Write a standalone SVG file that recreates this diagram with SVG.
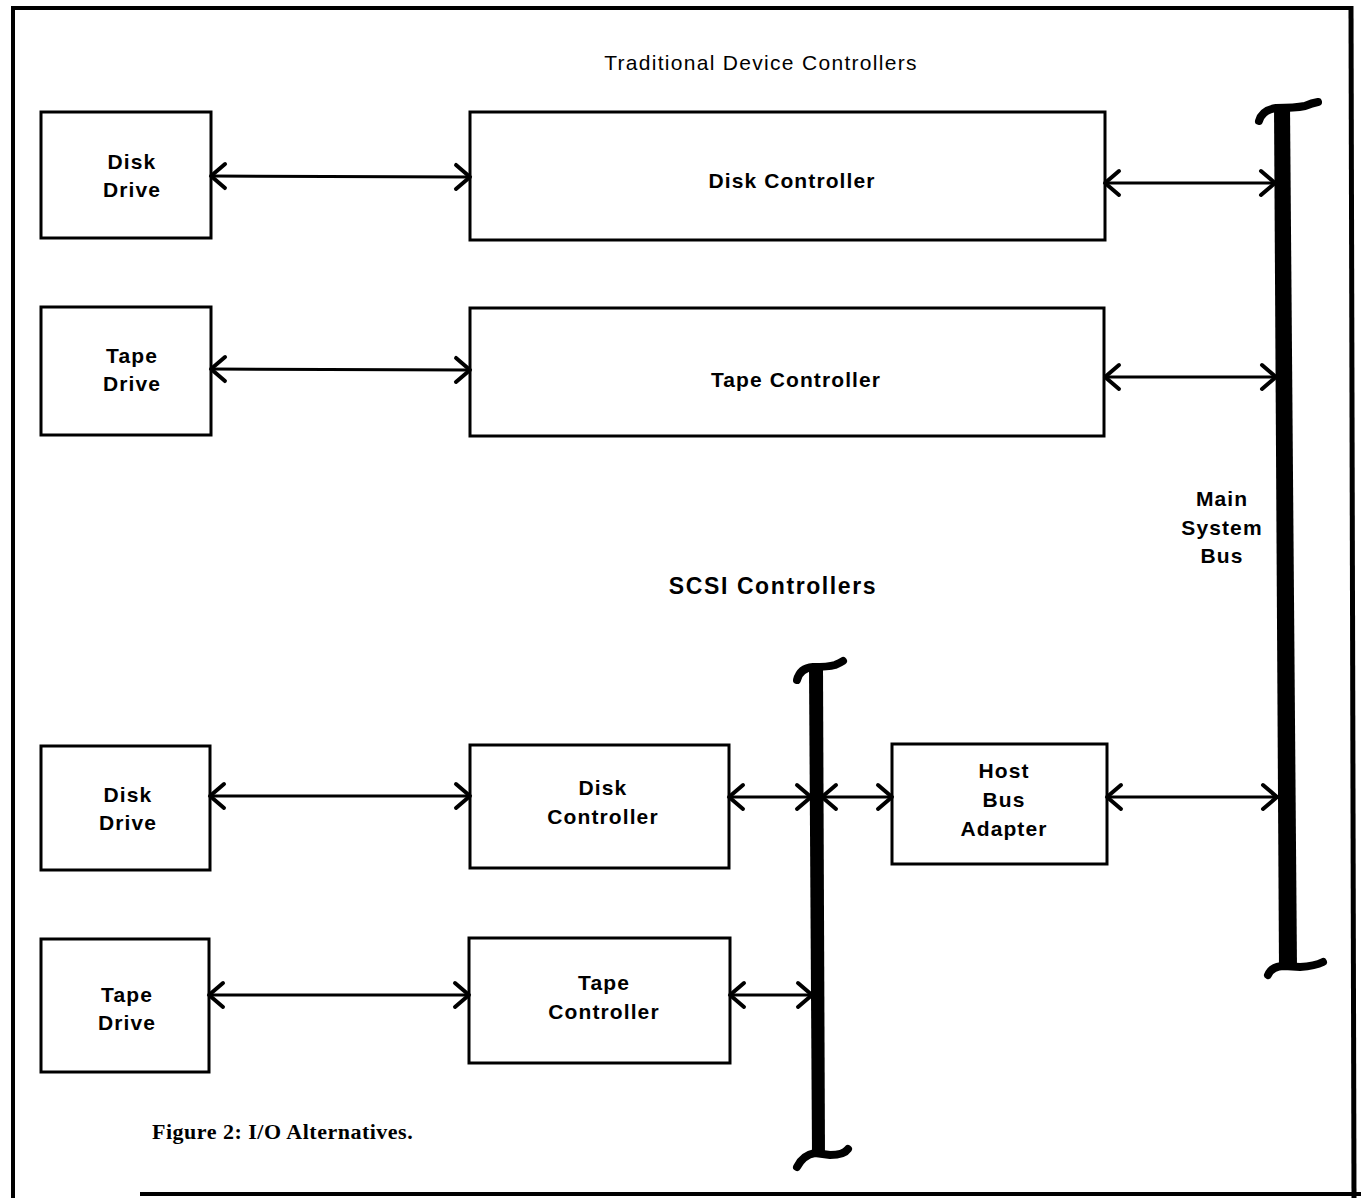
<svg xmlns="http://www.w3.org/2000/svg" width="1361" height="1198" viewBox="0 0 1361 1198">
<defs>
<style>
.box{fill:#fff;stroke:#000;stroke-width:3}
.lbl{font-family:"Liberation Sans",Arial,sans-serif;font-weight:bold;font-size:21px;letter-spacing:1.1px;text-anchor:middle;fill:#000}
.conn{stroke:#000;stroke-width:3;fill:none;marker-start:url(#ch);marker-end:url(#ch)}
.cap{stroke:#000;stroke-width:8;fill:none;stroke-linecap:round}
</style>
<marker id="ch" markerUnits="userSpaceOnUse" viewBox="-20 -16 24 32" markerWidth="24" markerHeight="32" refX="0" refY="0" orient="auto-start-reverse">
<path d="M -14 -12 L 0 0 L -14 12" fill="none" stroke="#000" stroke-width="4" stroke-linecap="round" stroke-linejoin="round"/>
</marker>
</defs>
<rect width="1361" height="1198" fill="#fff"/>
<g id="frame" stroke="#000" fill="none">
<line x1="13" y1="8" x2="1350" y2="8" stroke-width="4"/>
<line x1="13" y1="6" x2="13" y2="1198" stroke-width="4"/>
<line x1="1351" y1="6" x2="1354" y2="1198" stroke-width="5"/>
<line x1="140" y1="1194" x2="1361" y2="1194" stroke-width="4"/>
</g>
<text x="761" y="70" style="font-family:'Liberation Sans',Arial,sans-serif;font-size:21px;letter-spacing:1.3px;text-anchor:middle">Traditional Device Controllers</text>
<text x="773" y="594" style="font-family:'Liberation Sans',Arial,sans-serif;font-weight:bold;font-size:23px;letter-spacing:1.6px;text-anchor:middle">SCSI Controllers</text>
<g id="main-bus">
<polygon points="1274,106 1290,106 1297,968 1279,968" fill="#000"/>
<path class="cap" d="M 1259 121 Q 1262 110 1276 108 Q 1295 108 1305 106 Q 1312 103 1318 102"/>
<path class="cap" d="M 1268 975 Q 1272 966 1284 966 L 1300 967 Q 1315 966 1323 962"/>
<text class="lbl" x="1222" y="506">Main</text>
<text class="lbl" x="1222" y="535">System</text>
<text class="lbl" x="1222" y="563">Bus</text>
</g>
<g id="scsi-bus">
<polygon points="809,668 823,668 825,1155 812,1155" fill="#000"/>
<path class="cap" d="M 797 680 Q 800 668 813 667 Q 828 667 835 665 Q 840 663 843 661"/>
<path class="cap" d="M 797 1167 Q 803 1155 815 1153 L 830 1155 Q 844 1155 848 1149"/>
</g>
<g id="disk-drive-1"><rect class="box" x="41" y="112" width="170" height="126"/><text class="lbl" x="132" y="169">Disk</text><text class="lbl" x="132" y="197">Drive</text></g>
<g id="disk-controller-1"><rect class="box" x="470" y="112" width="635" height="128"/><text class="lbl" x="792" y="188">Disk Controller</text></g>
<g id="tape-drive-1"><rect class="box" x="41" y="307" width="170" height="128"/><text class="lbl" x="132" y="363">Tape</text><text class="lbl" x="132" y="391">Drive</text></g>
<g id="tape-controller-1"><rect class="box" x="470" y="308" width="634" height="128"/><text class="lbl" x="796" y="387">Tape Controller</text></g>
<g id="disk-drive-2"><rect class="box" x="41" y="746" width="169" height="124"/><text class="lbl" x="128" y="802">Disk</text><text class="lbl" x="128" y="830">Drive</text></g>
<g id="disk-controller-2"><rect class="box" x="470" y="745" width="259" height="123"/><text class="lbl" x="603" y="795">Disk</text><text class="lbl" x="603" y="824">Controller</text></g>
<g id="host-bus-adapter"><rect class="box" x="892" y="744" width="215" height="120"/><text class="lbl" x="1004" y="778">Host</text><text class="lbl" x="1004" y="807">Bus</text><text class="lbl" x="1004" y="836">Adapter</text></g>
<g id="tape-drive-2"><rect class="box" x="41" y="939" width="168" height="133"/><text class="lbl" x="127" y="1002">Tape</text><text class="lbl" x="127" y="1030">Drive</text></g>
<g id="tape-controller-2"><rect class="box" x="469" y="938" width="261" height="125"/><text class="lbl" x="604" y="990">Tape</text><text class="lbl" x="604" y="1019">Controller</text></g>
<g id="connectors">
<line class="conn" x1="211" y1="176" x2="470" y2="177"/>
<line class="conn" x1="1105" y1="183" x2="1275" y2="183"/>
<line class="conn" x1="211" y1="369" x2="470" y2="370"/>
<line class="conn" x1="1105" y1="377" x2="1276" y2="377"/>
<line class="conn" x1="210" y1="796" x2="470" y2="796"/>
<line class="conn" x1="729" y1="797" x2="811" y2="797"/>
<line class="conn" x1="822" y1="797" x2="892" y2="797"/>
<line class="conn" x1="1107" y1="797" x2="1277" y2="797"/>
<line class="conn" x1="209" y1="995" x2="469" y2="995"/>
<line class="conn" x1="730" y1="995" x2="812" y2="995"/>
</g>
<text x="152" y="1139" style="font-family:'Liberation Serif','Times New Roman',serif;font-weight:bold;font-size:22px;letter-spacing:0.5px">Figure 2: I/O Alternatives.</text>
</svg>
